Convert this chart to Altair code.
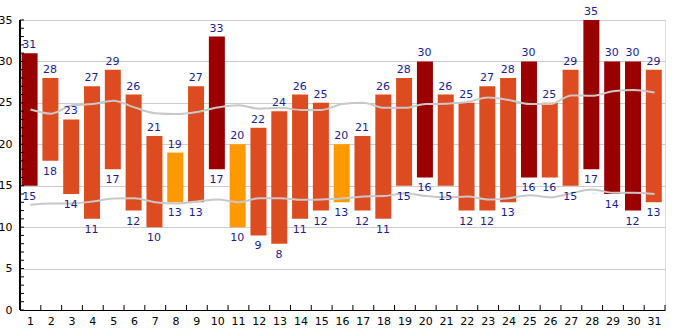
import altair as alt
import pandas as pd

days = list(range(1, 32))
hi = [31, 28, 23, 27, 29, 26, 21, 19, 27, 33, 20, 22, 24, 26, 25, 20, 21, 26, 28, 30,
      26, 25, 27, 28, 30, 25, 29, 35, 30, 30, 29]
lo = [15, 18, 14, 11, 17, 12, 10, 13, 13, 17, 10, 9, 8, 11, 12, 13, 12, 11, 15, 16,
      15, 12, 12, 13, 16, 16, 15, 17, 14, 12, 13]
avg_hi = [24.2, 23.7, 24.7, 24.85, 25.25, 24.45, 23.75, 23.65, 23.9, 24.45, 24.7, 24.3,
          24.4, 24.15, 24.15, 24.85, 25.0, 24.4, 24.4, 24.85, 24.9, 25.1, 25.65, 25.35,
          24.85, 24.85, 25.9, 25.85, 26.4, 26.55, 26.25]
avg_lo = [12.7, 12.85, 12.85, 13.1, 13.45, 13.5, 13.0, 12.85, 13.1, 13.35, 13.0, 13.5,
          13.5, 13.3, 13.35, 13.45, 13.7, 13.75, 14.1, 13.75, 13.6, 13.7, 13.35, 13.5,
          13.85, 13.6, 14.1, 14.55, 14.15, 14.15, 14.0]
y_ticks = list(range(0, 36))
y_labels = list(range(0, 36, 5))

df = pd.DataFrame({"day": days, "hi": hi, "lo": lo, "avg_hi": avg_hi, "avg_lo": avg_lo})
ytick_df = pd.DataFrame({"v": y_ticks})

FONT = "DejaVu Sans"
LABEL = "#1c1c8c"

xscale = alt.Scale(paddingInner=0, paddingOuter=0)
yscale = alt.Scale(domain=[0, 35], nice=False, zero=True)

x_axis = alt.Axis(title=None, labelAngle=0, ticks=False, grid=False, domainColor="black",
                  labelColor="black", labelFont=FONT, labelFontSize=11, labelPadding=5,
                  zindex=1)
y_axis = alt.Axis(title=None, values=y_labels, ticks=False, grid=True, gridColor="#cccccc",
                  domainColor="black", labelColor="black", labelFont=FONT,
                  labelFontSize=11, labelPadding=8, zindex=0)

base = alt.Chart(df)

bars = base.transform_calculate(
    cat="datum.hi >= 30 ? 'hot' : (datum.hi <= 20 ? 'mild' : 'warm')"
).mark_bar(width=16, xOffset=-0.8).encode(
    x=alt.X("day:O", scale=xscale, axis=x_axis),
    y=alt.Y("lo:Q", scale=yscale, axis=y_axis),
    y2="hi:Q",
    color=alt.Color("cat:N", scale=alt.Scale(domain=["hot", "warm", "mild"],
                                             range=["#990000", "#dd4b20", "#ff9900"]),
                    legend=None),
)

line_hi = base.mark_line(color="#c8c8c8", strokeWidth=2, interpolate="monotone").encode(
    x="day:O", y="avg_hi:Q")
line_lo = base.mark_line(color="#c8c8c8", strokeWidth=2, interpolate="monotone").encode(
    x="day:O", y="avg_lo:Q")

txt_hi = base.mark_text(font=FONT, fontSize=11, color=LABEL, baseline="alphabetic",
                        dy=-5, xOffset=-1.2).encode(x="day:O", y="hi:Q", text="hi:Q")
txt_lo = base.mark_text(font=FONT, fontSize=11, color=LABEL, baseline="alphabetic",
                        dy=14, xOffset=-1.2).encode(x="day:O", y="lo:Q", text="lo:Q")

ydomain = alt.Chart(ytick_df).mark_rule(color="black", strokeWidth=1).encode(
    x=alt.value(0), y=alt.value(0), y2=alt.value(290))

yticks = alt.Chart(ytick_df).mark_rule(color="black", strokeWidth=1).encode(
    y="v:Q", x=alt.value(0), x2=alt.value(4))

xticks = base.mark_rule(color="black", strokeWidth=1).encode(
    x=alt.X("day:O", bandPosition=0), y=alt.value(285), y2=alt.value(290))
xtick_end = base.transform_filter("datum.day == 31").mark_rule(color="black", strokeWidth=1).encode(
    x=alt.X("day:O", bandPosition=1), y=alt.value(285), y2=alt.value(290))

chart = alt.layer(bars, line_hi, line_lo, txt_hi, txt_lo, ydomain, yticks, xticks, xtick_end).properties(
    width=645, height=290,
    autosize=alt.AutoSizeParams(type="none"),
    padding={"left": 20, "top": 20, "right": 20, "bottom": 20},
).configure_view(stroke=None).configure(background="white")

chart.save("out.html", embed_options={"renderer": "svg", "actions": False})
